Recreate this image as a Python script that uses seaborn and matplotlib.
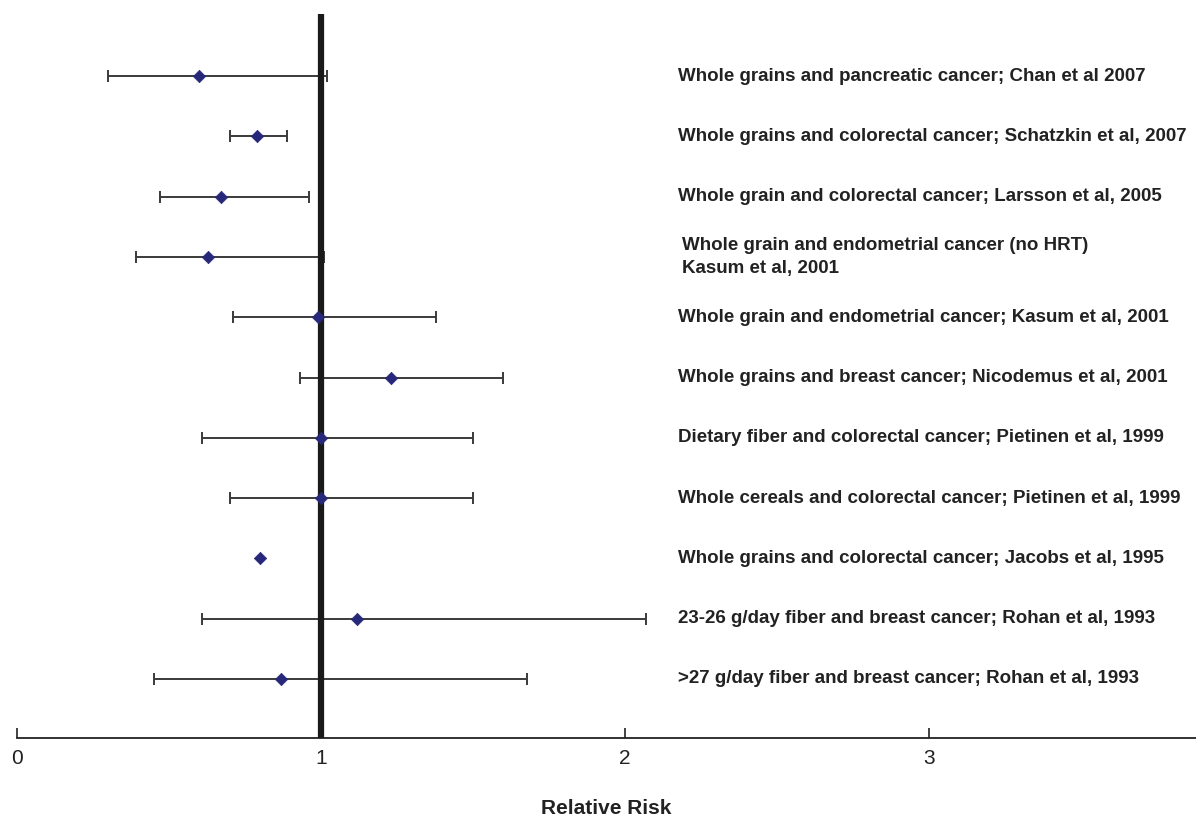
import matplotlib
matplotlib.use('Agg')
import matplotlib.pyplot as plt
import numpy as np
import pandas as pd
import seaborn as sns

# studies, top to bottom
labels = [
    "Whole grains and pancreatic cancer; Chan et al 2007",
    "Whole grains and colorectal cancer; Schatzkin et al, 2007",
    "Whole grain and colorectal cancer; Larsson et al, 2005",
    "Whole grain and endometrial cancer (no HRT)\nKasum et al, 2001",
    "Whole grain and endometrial cancer; Kasum et al, 2001",
    "Whole grains and breast cancer; Nicodemus et al, 2001",
    "Dietary fiber and colorectal cancer; Pietinen et al, 1999",
    "Whole cereals and colorectal cancer; Pietinen et al, 1999",
    "Whole grains and colorectal cancer; Jacobs et al, 1995",
    "23-26 g/day fiber and breast cancer; Rohan et al, 1993",
    ">27 g/day fiber and breast cancer; Rohan et al, 1993",
]
rr = [0.60, 0.79, 0.67, 0.63, 0.99, 1.23, 1.00, 1.00, 0.80, 1.12, 0.87]
ci_low = [0.30, 0.70, 0.47, 0.39, 0.71, 0.93, 0.61, 0.70, np.nan, 0.61, 0.45]
ci_high = [1.02, 0.89, 0.96, 1.01, 1.38, 1.60, 1.50, 1.50, np.nan, 2.07, 1.68]
xticks = [0, 1, 2, 3]

df = pd.DataFrame({"label": labels, "rr": rr, "lo": ci_low, "hi": ci_high})
df["row"] = np.arange(len(df))

sns.set_style("white")
plt.rcParams['font.family'] = ['Liberation Sans', 'DejaVu Sans']

fig = plt.figure(figsize=(11.96, 8.17), dpi=100)
ax = fig.add_axes([17 / 1196, 1 - 738 / 817, 1 - 17 / 1196, (738 - 14) / 817])

# confidence intervals
ci = df.dropna(subset=["lo", "hi"])
ax.errorbar(ci["rr"], ci["row"],
            xerr=[ci["rr"] - ci["lo"], ci["hi"] - ci["rr"]],
            fmt="none", ecolor="#3a3a3a", elinewidth=1.4, capsize=4.5, capthick=1.4, zorder=2)

# reference line at RR = 1
ax.axvline(1, color="#1a1a1a", lw=4.5, zorder=3)

sns.scatterplot(data=df, x="rr", y="row", marker="D", s=40, color="#27287a",
                edgecolor="#27287a", linewidth=0.5, ax=ax, zorder=4)

for _, r in df.iterrows():
    xoff = 2.19 if "\n" in r["label"] else 2.175
    ax.text(xoff, r["row"], r["label"], fontsize=13.5, fontweight="bold",
            color="#222222", va="center", ha="left", linespacing=1.45)

ax.set_xlim(0, 3.88)
ax.set_ylim(10.98, -1.03)
ax.set_yticks([])
ax.set_xticks(xticks)
ax.set_xticklabels([str(t) for t in xticks], fontsize=15, color="#222222")
ax.tick_params(axis="x", bottom=True, direction="in", length=7, width=1.2,
               color="#222222", pad=8)
for s in ["left", "right", "top"]:
    ax.spines[s].set_visible(False)
ax.spines["bottom"].set_color("#222222")
ax.spines["bottom"].set_linewidth(1.3)
ax.set_xlabel("Relative Risk", fontsize=15, fontweight="bold", color="#222222", labelpad=22)
ax.set_ylabel("")

fig.savefig("out.png", dpi=100)
